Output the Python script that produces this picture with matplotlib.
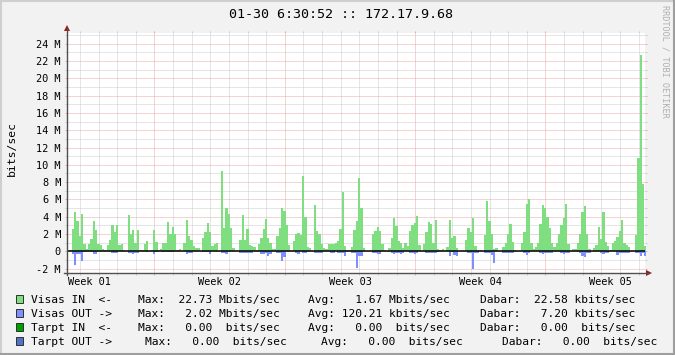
import numpy as np
import matplotlib
matplotlib.use('Agg')
import matplotlib.pyplot as plt
from matplotlib.lines import Line2D
from matplotlib.patches import Polygon, Rectangle
from matplotlib.transforms import blended_transform_factory

# ---------------- data ----------------
STEP_HOURS = 3  # one sample every 3 hours
visas_in = [  # Mbit/s
    0, 0.1, 2.6, 4.5, 3.5, 1.8, 4.3, 0.8, 0.3, 0.9,
    1.4, 3.5, 2.5, 0.8, 0.7, 0.3, 0.15, 0.7, 1.3, 3.0,
    2.2, 3.0, 0.7, 0.8, 0.1, 0, 4.2, 2.0, 2.5, 1.0,
    2.5, 0.2, 0.1, 0.9, 1.2, 0.05, 0.2, 2.5, 1.1, 0.1,
    0.3, 1.0, 1.0, 3.4, 2.0, 2.8, 2.0, 0.1, 0.3, 0,
    1.0, 3.6, 1.8, 1.3, 0.6, 0.4, 0.4, 0, 1.5, 2.2,
    3.3, 2.2, 0.65, 0.8, 1.0, 0, 9.3, 2.7, 5.0, 4.3,
    2.7, 0.35, 0.05, 0.05, 1.3, 4.2, 1.3, 2.6, 0.7, 0.65,
    0.5, 0.1, 0.9, 1.5, 2.6, 3.7, 1.5, 1.0, 0.3, 0.3,
    1.8, 2.7, 5.0, 4.65, 3.0, 0.7, 0.05, 1.2, 2.0, 2.1,
    1.9, 8.7, 4.0, 0.5, 0.4, 0, 5.4, 2.4, 2.0, 0.9,
    0.4, 0.3, 0.8, 0.9, 0.9, 1.0, 1.2, 2.6, 6.8, 0.6,
    0.1, 0.1, 0.5, 2.5, 3.5, 8.5, 5.0, 0.35, 0, 0,
    0, 2.0, 2.4, 2.8, 2.4, 0.9, 0.2, 0, 0.4, 1.5,
    3.9, 2.9, 1.15, 1.0, 0.35, 1.0, 0.6, 2.3, 3.0, 3.3,
    4.1, 0.7, 0, 0.9, 2.2, 3.4, 3.2, 1.0, 3.65, 0.3,
    0.2, 0.3, 0, 0.5, 3.6, 1.5, 1.8, 0.4, 0, 0,
    0, 1.3, 2.7, 2.2, 3.9, 0.6, 0.15, 0.1, 0, 1.9,
    5.8, 3.5, 2.0, 0.3, 0.35, 0, 0, 0.5, 1.0, 2.0,
    3.2, 1.1, 0.2, 0, 0, 1.0, 2.2, 5.5, 6.0, 1.0,
    0.3, 0.5, 1.0, 3.2, 5.4, 5.0, 4.0, 2.65, 1.0, 0.5,
    1.0, 2.0, 3.0, 3.8, 5.45, 0.9, 0, 0.25, 0.3, 1.0,
    2.0, 4.6, 5.2, 2.0, 0.25, 0, 0.35, 0.7, 2.85, 1.4,
    4.5, 1.1, 0.65, 0.1, 1.0, 1.2, 1.6, 2.4, 3.6, 1.0,
    0.7, 0.45, 0, 0, 1.9, 10.75, 22.73, 7.8, 0.6,
]
visas_out = [  # Mbit/s (drawn below zero)
    0, 0, 0.3, 1.6, 0.3, 0.3, 1.1, 0.1, 0, 0,
    0.1, 0.3, 0.3, 0, 0, 0, 0, 0, 0, 0.15,
    0.15, 0.15, 0, 0, 0, 0, 0.15, 0.15, 0.3, 0.15,
    0.15, 0, 0, 0, 0.05, 0, 0, 0.3, 0.05, 0,
    0, 0.05, 0, 0.1, 0.1, 0.1, 0, 0, 0, 0,
    0, 0.3, 0.25, 0.25, 0, 0, 0, 0, 0.1, 0.1,
    0.1, 0.3, 0, 0, 0, 0, 0.15, 0.15, 0.3, 0.05,
    0, 0, 0, 0, 0.15, 0.15, 0.15, 0.15, 0.15, 0.15,
    0, 0, 0, 0.35, 0.35, 0.2, 0.5, 0.3, 0, 0,
    0.15, 0.15, 1.1, 0.7, 0, 0, 0, 0, 0.15, 0.3,
    0, 0.2, 0.2, 0, 0, 0, 0.15, 0.15, 0.15, 0.15,
    0, 0, 0, 0.15, 0.15, 0, 0.15, 0.15, 0.15, 0.5,
    0, 0, 0.15, 0.25, 1.9, 0.6, 0.6, 0, 0, 0,
    0, 0.25, 0.25, 0.35, 0.35, 0, 0, 0, 0, 0.15,
    0.3, 0.15, 0.15, 0.3, 0.15, 0, 0, 0.15, 0.15, 0.3,
    0.15, 0, 0, 0, 0.15, 0.15, 0.15, 0.15, 0.15, 0.1,
    0, 0, 0, 0, 0.5, 0.1, 0.4, 0.5, 0, 0,
    0, 0, 0.15, 0.15, 2.0, 0.15, 0.15, 0, 0, 0.2,
    0.2, 0.2, 0.4, 1.3, 0, 0, 0, 0.15, 0.15, 0.15,
    0.15, 0.15, 0, 0, 0, 0, 0.2, 0.4, 0.2, 0,
    0, 0, 0, 0.2, 0.35, 0.2, 0.15, 0.15, 0.15, 0,
    0, 0, 0.15, 0.3, 0.15, 0.15, 0, 0, 0, 0,
    0.15, 0.55, 0.7, 0.15, 0.15, 0, 0, 0, 0, 0.2,
    0.3, 0.2, 0.2, 0, 0, 0, 0.45, 0.15, 0.15, 0.15,
    0.15, 0.15, 0, 0, 0.15, 0.15, 0.55, 0.15, 0.55,
]

title = '01-30 6:30:52 :: 172.17.9.68'
y_label = 'bits/sec'
watermark = 'RRDTOOL / TOBI OETIKER'
week_labels = ['Week 01', 'Week 02', 'Week 03', 'Week 04', 'Week 05']
y_ticks = list(range(-2, 25, 2))
y_tick_labels = ['-2 M', '0', '2 M', '4 M', '6 M', '8 M', '10 M', '12 M',
                 '14 M', '16 M', '18 M', '20 M', '22 M', '24 M']

legend_names = ['Visas IN  <-', 'Visas OUT ->', 'Tarpt IN  <-', 'Tarpt OUT ->']
legend_colors = ['#7fde7f', '#7f8fff', '#00a000', '#5272c8']
max_vals = [22.73, 2.02, 0.00, 0.00]
max_units = ['M', 'M', ' ', ' ']
avg_vals = [1.67, 120.21, 0.00, 0.00]
avg_units = ['M', 'k', ' ', ' ']
dabar_vals = [22.58, 7.20, 0.00, 0.00]
dabar_units = ['k', 'k', ' ', ' ']

# ---------------- layout ----------------
W, H = 675, 355
L, R, T, B = 67, 645, 33, 273
PX_PER_DAY = 18.62
X_MAX_H = (R - L) / PX_PER_DAY * 24
DAY0_H = 16.75
Y_MIN, Y_MAX = -2.51, 25.24

BG = '#f2f2f2'
GREEN = legend_colors[0]
BLUE = legend_colors[1]
MGRID = '#e8a8a8'
GRID = '#cccccc'
AXIS = '#505050'
ARROW = '#9b1b1b'
MONO = 'DejaVu Sans Mono'

fig = plt.figure(figsize=(W / 100, H / 100), dpi=100, facecolor=BG)
ax = fig.add_axes([L / W, 1 - B / H, (R - L) / W, (B - T) / H])
ax.set_facecolor('white')

n = len(visas_in)
t = np.arange(n + 1) * STEP_HOURS
vin = np.append(visas_in, visas_in[-1])
vout = -np.append(visas_out, visas_out[-1])
ax.fill_between(t, vin, step='post', color=GREEN, lw=0, zorder=2)
ax.fill_between(t, vout, step='post', color=BLUE, lw=0, zorder=2)
ax.axhline(0, color='black', lw=1.1, zorder=5)

ax.set_xlim(0, X_MAX_H)
ax.set_ylim(Y_MIN, Y_MAX)

day_lines = np.arange(DAY0_H, X_MAX_H, 24)
week_lines = np.arange(DAY0_H + 4 * 24, X_MAX_H, 7 * 24)
ax.set_xticks(week_lines)
ax.set_xticks(day_lines, minor=True)
ax.set_xticklabels([])
ax.set_yticks(y_ticks)
ax.set_yticks(np.arange(-2, 26, 1), minor=True)
ax.set_yticklabels(y_tick_labels, fontfamily=MONO, fontsize=7.4)

ax.set_axisbelow(True)
dots = (0, (1, 1))
ax.grid(which='major', color=MGRID, lw=0.72, ls=dots, zorder=1)
ax.grid(which='minor', color=GRID, lw=0.72, ls=dots, zorder=1)
ax.tick_params(which='major', direction='out', length=1.6, width=0.72, color=MGRID,
               left=True, right=True, top=True, bottom=True, pad=2.8)
ax.tick_params(which='minor', direction='out', length=1.6, width=0.72, color=GRID,
               left=True, right=True, top=True, bottom=True)
for s in ax.spines.values():
    s.set_visible(False)

def fx(x):
    return x / W

def fy(y):
    return 1 - y / H

# axis lines and arrows
fig.add_artist(Line2D([fx(L), fx(L)], [fy(B + 2), fy(29)], color=AXIS, lw=1.0))
fig.add_artist(Line2D([fx(L - 3), fx(R + 3)], [fy(B), fy(B)], color=AXIS, lw=1.0))
fig.add_artist(Polygon([(fx(L - 3), fy(31)), (fx(L + 3), fy(31)), (fx(L), fy(25))],
                       closed=True, color=ARROW, lw=0))
fig.add_artist(Polygon([(fx(R + 1), fy(B - 3)), (fx(R + 1), fy(B + 3)), (fx(R + 7), fy(B))],
                       closed=True, color=ARROW, lw=0))

# week labels
btr = blended_transform_factory(ax.transData, fig.transFigure)
for i, lab in enumerate(week_labels):
    xh = DAY0_H + 4 * 24 - 3.5 * 24 + i * 7 * 24
    ax.text(xh, fy(285), lab, transform=btr, ha='center', va='baseline',
            fontfamily=MONO, fontsize=7.4, color='black')

# title, y label, watermark
fig.text(fx(341.3), fy(18.3), title, ha='center', va='baseline',
         fontfamily=MONO, fontsize=9.6, color='black')
fig.text(fx(12), fy(149), y_label, rotation=90, ha='center', va='center',
         fontfamily=MONO, fontsize=8.2, color='black')
fig.text(fx(665.5), fy(61), watermark, rotation=-90, ha='center', va='center',
         fontfamily=MONO, fontsize=6.1, color='#b0b0b0')

# legend
item_x = [[31, 137.7, 308.3, 480.0]] * 3 + [[31, 145, 321.2, 502.0]]
baselines = [303.3, 317.2, 331.1, 345.0]
for i in range(4):
    yb = baselines[i]
    fig.add_artist(Rectangle((fx(15.7), fy(yb)), 7.6 / W, 8.2 / H,
                             facecolor=legend_colors[i], edgecolor='#303030', lw=0.7))
    items = [legend_names[i],
             'Max:%7.2f %sbits/sec' % (max_vals[i], max_units[i]),
             'Avg:%7.2f %sbits/sec' % (avg_vals[i], avg_units[i]),
             'Dabar:%7.2f %sbits/sec' % (dabar_vals[i], dabar_units[i])]
    for xi, txt in zip(item_x[i], items):
        fig.text(fx(xi), fy(yb), txt, ha='left', va='baseline',
                 fontfamily=MONO, fontsize=8.1, color='black')

# 3D frame
fig.add_artist(Line2D([0, 1], [fy(0.5), fy(0.5)], color='#cfcfcf', lw=1.5))
fig.add_artist(Line2D([fx(0.5), fx(0.5)], [0, 1], color='#cfcfcf', lw=1.5))
fig.add_artist(Line2D([0, 1], [fy(H - 1), fy(H - 1)], color='#9e9e9e', lw=1.5))
fig.add_artist(Line2D([fx(W - 1), fx(W - 1)], [0, 1], color='#9e9e9e', lw=1.5))

fig.savefig('out.png', dpi=100, facecolor=BG)
